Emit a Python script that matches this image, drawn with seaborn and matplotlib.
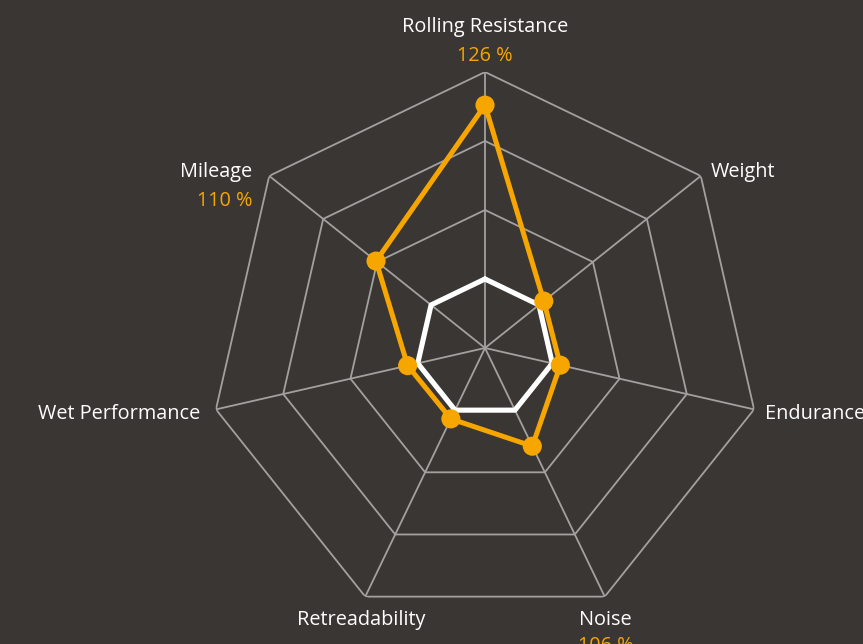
import numpy as np
import pandas as pd
import matplotlib
matplotlib.use("Agg")
import matplotlib.pyplot as plt
import seaborn as sns

categories = ["Rolling Resistance", "Weight", "Endurance", "Noise",
              "Retreadability", "Wet Performance", "Mileage"]
tyre_values = [125.2, 100.9, 101.2, 105.8, 101.4, 101.5, 110.2]
baseline_values = [100, 100, 100, 100, 100, 100, 100]
value_labels = ["126 %", "", "", "106 %", "", "", "110 %"]
ring_levels = [100, 110, 120, 130]

BG = "#3a3633"
ORANGE = "#f7a600"
GRID = "#a3a19f"

sns.set_theme(style="dark", rc={"axes.facecolor": BG, "figure.facecolor": BG})
plt.rcParams["font.family"] = ["Open Sans", "DejaVu Sans"]

n = len(categories)
angles = np.linspace(0, 2 * np.pi, n, endpoint=False)
closed = np.append(angles, angles[0] + 2 * np.pi)

fig = plt.figure(figsize=(8.63, 6.44), dpi=100)
ax = fig.add_axes([0.2422, 0.0311, 0.6396, 0.8571], projection="polar")
ax.set_theta_zero_location("N")
ax.set_theta_direction(-1)
ax.set_ylim(90, 130)
ax.grid(False)
ax.spines["polar"].set_visible(False)
ax.set_xticks([])
ax.set_yticks([])
ax.patch.set_alpha(0)

# polygon grid
for lvl in ring_levels:
    ax.plot(closed, [lvl] * (n + 1), color=GRID, lw=1.3, zorder=1)
for a in angles:
    ax.plot([a, a], [90, 130], color=GRID, lw=1.3, zorder=1)

base_df = pd.DataFrame({"theta": closed, "value": baseline_values + baseline_values[:1]})
tyre_df = pd.DataFrame({"theta": closed, "value": tyre_values + tyre_values[:1]})

sns.lineplot(data=base_df, x="theta", y="value", sort=False, estimator=None,
             color="white", lw=3.7, ax=ax, zorder=3)
sns.lineplot(data=tyre_df, x="theta", y="value", sort=False, estimator=None,
             color=ORANGE, lw=3.6, ax=ax, zorder=4)
ax.scatter(angles, tyre_values, s=190, color=ORANGE, zorder=5, edgecolor="none")
ax.set_xlabel("")
ax.set_ylabel("")

# label offsets in pixels relative to outer vertex
label_pos = [(0, 45, "center"), (10, 4, "left"), (11, -5, "left"), (1, -23, "center"),
             (-4, -23, "center"), (-16, -5, "right"), (-17, 4, "right")]
value_pos = [(0, 16), None, None, (1, -49), None, None, (-17, -25)]

for i, cat in enumerate(categories):
    dx, dy, ha = label_pos[i]
    ax.annotate(cat, xy=(angles[i], 130), xytext=(dx, dy), textcoords="offset pixels",
                ha=ha, va="center", color="white", fontsize=14.3, annotation_clip=False)
    if value_labels[i]:
        vx, vy = value_pos[i]
        ax.annotate(value_labels[i], xy=(angles[i], 130), xytext=(vx, vy),
                    textcoords="offset pixels", ha=ha, va="center", color=ORANGE,
                    fontsize=14.3, annotation_clip=False)

fig.savefig("out.png", dpi=100, facecolor=BG)
